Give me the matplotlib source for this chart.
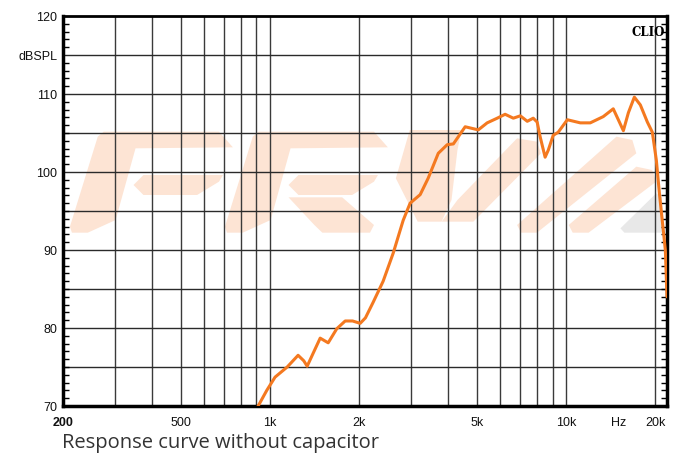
import numpy as np
import matplotlib.pyplot as plt
from matplotlib.patches import Polygon
from matplotlib.ticker import FixedLocator, MultipleLocator, NullLocator

# frequency response (Hz, dB SPL)
freq = [850, 912, 975, 1040, 1143, 1244, 1300, 1335, 1400, 1477, 1572, 1680, 1794, 1900,
        2016, 2100, 2230, 2410, 2606, 2816, 2972, 3214, 3420, 3700, 3965, 4160,
        4560, 5050, 5410, 5850, 6220, 6630, 7000, 7390, 7740, 7980, 8170, 8490,
        8700, 9040, 9400, 10090, 11160, 12060, 13340, 14420, 15000, 15600,
        16220, 16990, 17800, 18800, 19540, 20160, 20640, 21620, 21900]
spl = [67.5, 70.0, 72.0, 73.7, 75.0, 76.5, 75.8, 75.1, 76.8, 78.7, 78.1, 79.9, 80.9, 80.9,
       80.6, 81.3, 83.3, 86.0, 89.6, 93.8, 96.0, 97.1, 99.2, 102.4, 103.5, 103.6,
       105.8, 105.4, 106.3, 106.9, 107.4, 106.9, 107.2, 106.5, 106.9, 106.4,
       104.5, 101.9, 102.8, 104.7, 105.1, 106.7, 106.3, 106.3, 107.1, 108.1,
       106.7, 105.3, 107.6, 109.6, 108.6, 106.4, 105.1, 101.5, 97.3, 90.0, 84.0]

y_ticks = [70, 80, 90, 100, 110, 115, 120]
y_labels = ['70', '80', '90', '100', '110', 'dBSPL', '120']
x_ticks = [200, 500, 1000, 2000, 5000, 10000, 15000, 20000]
x_labels = ['200', '500', '1k', '2k', '5k', '10k', 'Hz', '20k']
grid_freqs = [200, 300, 400, 500, 600, 700, 800, 900,
              1000, 2000, 3000, 4000, 5000, 6000, 7000, 8000, 9000,
              10000, 20000]

fig = plt.figure(figsize=(6.75, 4.55), dpi=100)
ax = fig.add_axes([63 / 675, 49 / 455, 604 / 675, 390 / 455])
ax.set_xscale('log')
ax.set_xlim(200, 21900)
ax.set_ylim(70, 120)

# watermark logo, rough outline (traced in zoomed pixel space)
def to_axes(pts):
    out = []
    for zx, zy in pts:
        px = zx / 2.516 + 60
        py = zy / 3 + 110
        out.append(((px - 63) / 604, (406 - py) / 390))
    return out

logo_orange = [
    [(110, 65), (400, 65), (435, 112), (190, 115), (140, 330), (70, 368), (30, 368), (25, 350), (95, 80)],
    [(210, 195), (410, 195), (400, 215), (345, 255), (210, 255), (185, 225)],
    [(500, 65), (790, 65), (825, 112), (580, 115), (530, 330), (460, 368), (420, 368), (415, 350), (485, 80)],
    [(600, 195), (800, 195), (790, 215), (735, 255), (600, 255), (575, 225)],
    [(710, 262), (790, 345), (780, 368), (660, 368), (640, 345), (575, 262)],
    [(880, 60), (1010, 60), (1000, 120), (985, 270), (960, 335), (900, 335), (845, 205)],
    [(1000, 270), (1150, 85), (1200, 95), (1210, 130), (1040, 335), (960, 335)],
    [(1150, 345), (1400, 80), (1440, 90), (1450, 130), (1200, 368), (1160, 368)],
    [(1280, 345), (1450, 170), (1490, 180), (1500, 215), (1330, 368), (1290, 368)],
]
for pts in logo_orange:
    ax.add_patch(Polygon(to_axes(pts), closed=True, transform=ax.transAxes,
                         facecolor='#fde4d4', edgecolor='none', zorder=0))
ax.add_patch(Polygon(to_axes([(1410, 355), (1500, 250), (1515, 262), (1515, 368), (1420, 368)]),
                     closed=True, transform=ax.transAxes,
                     facecolor='#e8e8e8', edgecolor='none', zorder=0))

# grid
for f in grid_freqs:
    ax.axvline(f, color='#3a3a3a', lw=1.0, zorder=1)
for db in range(75, 120, 5):
    ax.axhline(db, color='#2a2a2a', lw=1.0, zorder=1)

ax.plot(freq, spl, color='#f47920', lw=2.2, zorder=3,
        solid_capstyle='round', solid_joinstyle='round')

for side in ['left', 'bottom', 'right']:
    ax.spines[side].set_linewidth(2.5)
ax.spines['top'].set_linewidth(2.0)

ax.xaxis.set_major_locator(FixedLocator(x_ticks))
ax.set_xticklabels(x_labels)
ax.xaxis.set_minor_locator(NullLocator())
ax.set_yticks(y_ticks)
ax.set_yticklabels(y_labels)
ax.yaxis.set_minor_locator(MultipleLocator(1))
ax.tick_params(axis='both', which='major', length=0, labelsize=9,
               labelfontfamily='Liberation Sans', colors='#111111')
ax.tick_params(axis='x', pad=8)
ax.tick_params(axis='y', pad=4)
ax.tick_params(axis='y', which='minor', direction='in', length=4, width=1,
               left=True, right=True)
ax.get_xticklabels()[0].set_fontweight('bold')

ax.text(0.997, 0.975, 'CLIO', transform=ax.transAxes, ha='right', va='top',
        fontfamily='DejaVu Serif', fontweight='bold', fontsize=8.5, zorder=4)

fig.text(62 / 675, 1 - 443 / 455, 'Response curve without capacitor',
         ha='left', va='center', fontsize=14.5, fontfamily='Open Sans',
         color='#333333')

fig.savefig('out.png', dpi=100)
